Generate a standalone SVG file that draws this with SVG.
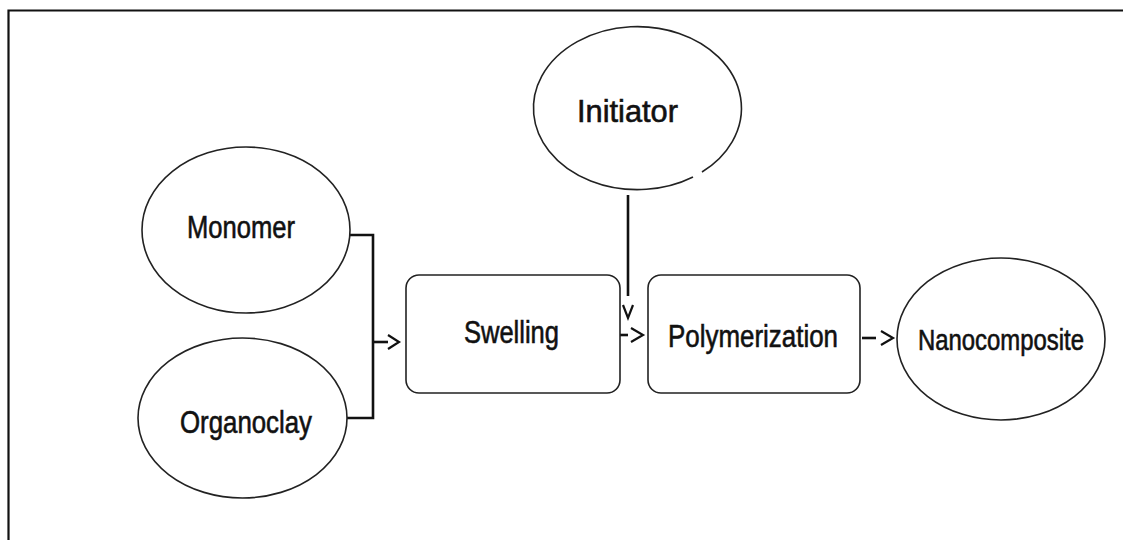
<svg xmlns="http://www.w3.org/2000/svg" width="1123" height="540" viewBox="0 0 1123 540">
<style>
.shape{fill:#fff;stroke:#222;stroke-width:1.6}
.lbl{font-family:"Liberation Sans",Arial,sans-serif;font-size:31px;fill:#111;stroke:#111;stroke-width:0.6;text-anchor:middle}
.conn{fill:none;stroke:#111;stroke-width:2.6}
.head{fill:none;stroke:#111;stroke-width:2.2}
</style>
<rect width="1123" height="540" fill="#fff"/>
<path d="M8.5 540 V10.5 H1123" fill="none" stroke="#111" stroke-width="2.2"/>
<g id="connectors">
<path class="conn" d="M350 235 H373 V418 H347"/>
<path class="conn" d="M373 342 H388"/>
<path class="head" d="M388 335 L399 342 L388 349"/>
<path class="conn" d="M628 195 V296" stroke-width="1.8"/>
<path class="head" d="M623 305 L628 318 L633 305" stroke-width="1.6"/>
<path class="conn" d="M619 335 H628"/>
<path class="head" d="M631 328 L643 335 L631 342"/>
<path class="conn" d="M862 338 H876"/>
<path class="head" d="M881 331 L893 338 L881 345"/>
</g>
<g id="monomer">
<ellipse class="shape" cx="246" cy="230" rx="104" ry="83"/>
<text class="lbl" x="241" y="238" textLength="108" lengthAdjust="spacingAndGlyphs">Monomer</text>
</g>
<g id="organoclay">
<ellipse class="shape" cx="242.5" cy="418" rx="104.5" ry="80"/>
<text class="lbl" x="246" y="433" textLength="132" lengthAdjust="spacingAndGlyphs">Organoclay</text>
</g>
<g id="initiator">
<path class="shape" d="M693 177 A104 81.5 0 1 1 702 172"/>
<text class="lbl" x="627.5" y="122" textLength="101" lengthAdjust="spacingAndGlyphs">Initiator</text>
</g>
<g id="swelling">
<rect class="shape" x="406" y="275" width="214" height="118" rx="13"/>
<text class="lbl" x="511.5" y="343" textLength="95" lengthAdjust="spacingAndGlyphs">Swelling</text>
</g>
<g id="polymerization">
<rect class="shape" x="648" y="275" width="212" height="118" rx="13"/>
<text class="lbl" x="753" y="347" textLength="170" lengthAdjust="spacingAndGlyphs">Polymerization</text>
</g>
<g id="nanocomposite">
<ellipse class="shape" cx="1001" cy="339" rx="104" ry="81"/>
<text class="lbl" x="1001" y="350" style="font-size:29px" textLength="166" lengthAdjust="spacingAndGlyphs">Nanocomposite</text>
</g>
</svg>
